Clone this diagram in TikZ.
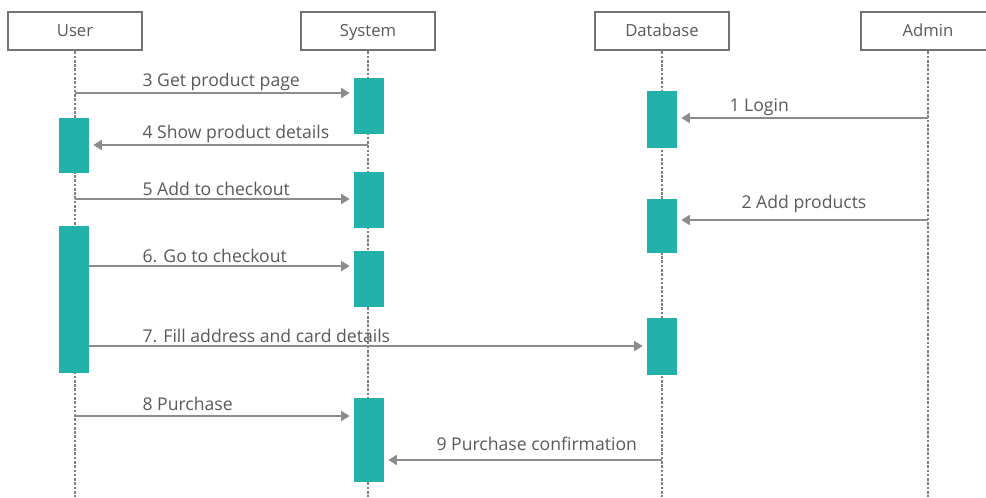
\documentclass[tikz,border=0pt]{standalone}
\usepackage{fontspec}
\setmainfont{Open Sans}
\usetikzlibrary{arrows.meta}

\definecolor{actteal}{HTML}{22B2A9}

\begin{document}
\begin{tikzpicture}[x=0.75pt,y=-0.75pt,
    head/.style={draw=black!55,line width=1.6pt,fill=white,minimum width=100pt,minimum height=29pt,text height=8pt,text depth=0.5pt,text=black!65,font=\fontsize{12.5}{14}\selectfont},
    life/.style={draw=black!50,line width=0.8pt,dash pattern=on 2pt off 1.2pt},
    bar/.style={fill=actteal,draw=none,minimum width=22.5pt,inner sep=0pt,anchor=north},
    msg/.style={draw=black!45,line width=1.5pt,-{Triangle[length=6.5pt,width=7.5pt]},shorten >=3pt},
    lbl/.style={anchor=south west,text=black!65,inner sep=1pt,font=\fontsize{13.2}{15}\selectfont}]
  \useasboundingbox (0,0) rectangle (986,497);
  \clip (0,0) rectangle (986,497);

  % participants
  \node[head] (user) at (75,31) {User};
  \node[head] (sys)  at (368,31) {System};
  \node[head] (db)   at (662,31) {Database};
  \node[head] (adm)  at (928,31) {Admin};

  \foreach \p in {user,sys,db,adm}
    \draw[life] (\p.south) -- ++(0,446);

  % activations
  \node[bar,minimum height=42pt]     (s1) at (369,78) {};
  \node[bar,minimum height=41.25pt]  (u1) at (74,118) {};
  \node[bar,minimum height=42pt]     (s2) at (369,172) {};
  \node[bar,minimum height=110.25pt] (u2) at (74,226) {};
  \node[bar,minimum height=42pt]     (s3) at (369,251) {};
  \node[bar,minimum height=63pt]     (s4) at (369,398) {};
  \node[bar,minimum height=42.75pt]  (d1) at (662,91) {};
  \node[bar,minimum height=40.5pt]   (d2) at (662,199) {};
  \node[bar,minimum height=42.75pt]  (d3) at (662,318) {};

  % message heights
  \coordinate (m1) at (928,118);
  \coordinate (m2) at (928,220);
  \coordinate (m3) at (75,93);
  \coordinate (m4) at (368,145);
  \coordinate (m5) at (75,199);
  \coordinate (m6) at (75,266);
  \coordinate (m7) at (75,346);
  \coordinate (m8) at (75,416);
  \coordinate (m9) at (662,460);

  \draw[msg] (m1) -- (m1 -| d1.east);
  \draw[msg] (m2) -- (m2 -| d2.east);
  \draw[msg] (m3) -- (m3 -| s1.west);
  \draw[msg] (m4) -- (m4 -| u1.east);
  \draw[msg] (m5) -- (m5 -| s2.west);
  \draw[msg] (m6 -| u2.east) -- (m6 -| s3.west);
  \draw[msg] (m7 -| u2.east) -- (m7 -| d3.west);
  \draw[msg] (m8) -- (m8 -| s4.west);
  \draw[msg] (m9) -- (m9 -| s4.east);

  % labels
  \node[lbl] (t1) at (728,117) {1 Login};
  \node[lbl] (t2) at (740,214) {2 Add products};
  \node[lbl] (t3) at (141,92) {3 Get product page};
  \node[lbl] (t4) at (141,144) {4 Show product details};
  \node[lbl] (t5) at (141,197) {5 Add to checkout};
  \node[lbl] (t6) at (141,264) {6. Go to checkout};
  \node[lbl] (t7) at (141,344) {7. Fill address and card details};
  \node[lbl] (t8) at (141,412) {8 Purchase};
  \node[lbl] (t9) at (435,452) {9 Purchase confirmation};
\end{tikzpicture}
\end{document}
